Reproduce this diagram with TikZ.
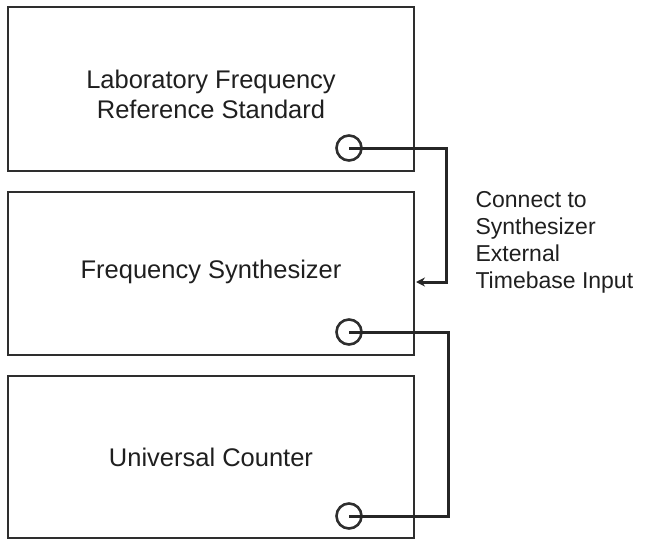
\documentclass[tikz,border=0pt]{standalone}
\usepackage{fontspec}
\setmainfont{Liberation Sans}
\usetikzlibrary{arrows.meta}
\begin{document}
\begin{tikzpicture}[x=1pt,y=-1pt,
  box/.style={draw=black!82,line width=2.8pt,inner sep=0pt},
  lbl/.style={font=\fontsize{25.5}{30}\selectfont,text=black!88,align=center},
  port/.style={draw=black!82,line width=2.6pt,circle,minimum size=25pt,inner sep=0pt},
  wire/.style={draw=black!85,line width=3pt}]
\useasboundingbox (0,0) rectangle (648,543);
\draw[box] (8,7) rectangle (414,171);
\draw[box] (8,192) rectangle (414,355);
\draw[box] (8,376) rectangle (414,538);
\node[lbl] (ref) at (211,94) {Laboratory Frequency\\Reference Standard};
\node[lbl] (syn) at (211,272) {Frequency Synthesizer};
\node[lbl] (cnt) at (211,457) {Universal Counter};
\node[port] (p1) at (349,148) {};
\node[port] (p2) at (349,332) {};
\node[port] (p3) at (349,516) {};
\coordinate (in) at (416,282);
\draw[wire,-{Stealth[length=9pt,width=9pt]}] (p1.center) -- (446,148) -- (446,282) -- (in);
\draw[wire] (p2.center) -- (448,332) -- (448,516) -- (p3.center);
\node[lbl,anchor=north west,align=left,font=\fontsize{23}{27}\selectfont] (note) at (472,188) {Connect to\\Synthesizer\\External\\Timebase Input};
\end{tikzpicture}
\end{document}
